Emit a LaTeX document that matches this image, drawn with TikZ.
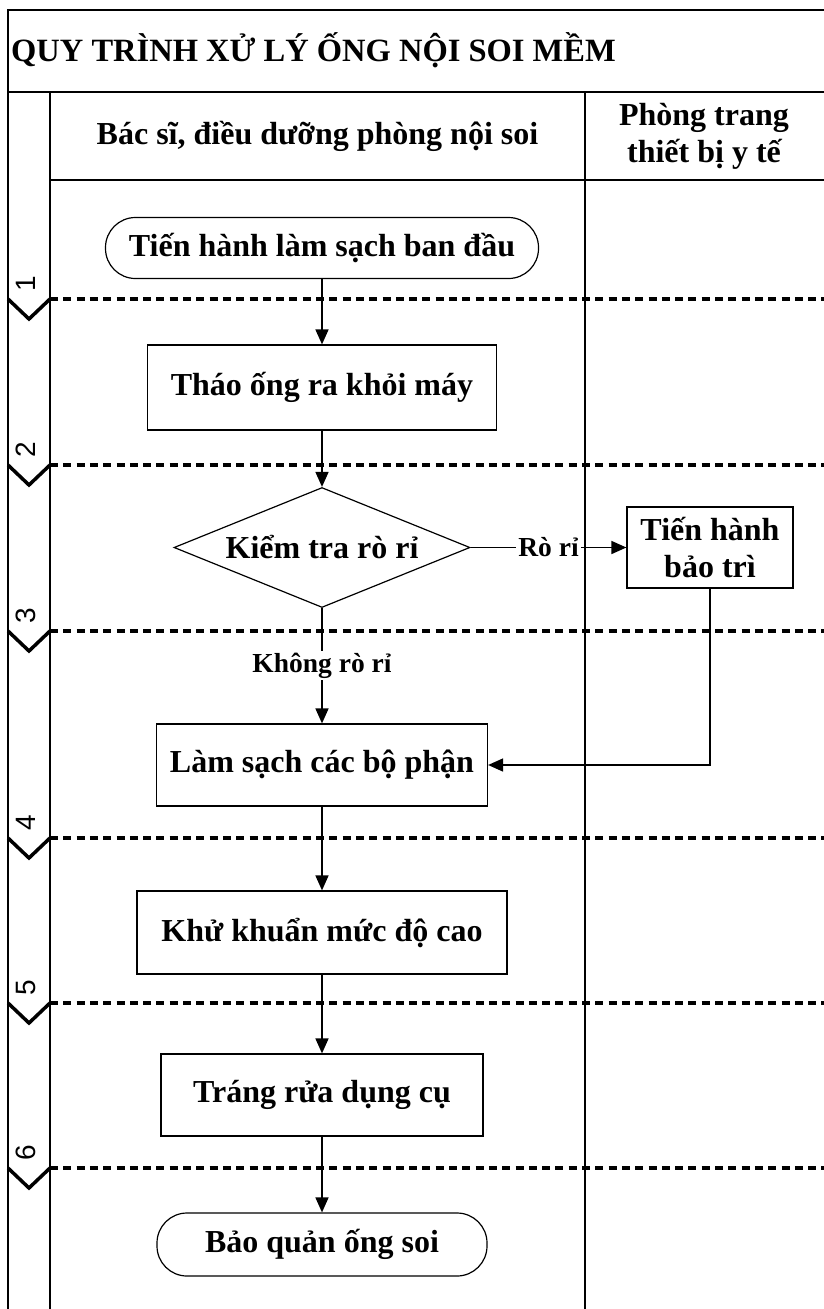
\documentclass[tikz,border=0pt]{standalone}
\usepackage{fontspec}
\setmainfont{Liberation Serif}
\newfontfamily\phasefont{Liberation Sans}
\usetikzlibrary{shapes.geometric,arrows.meta}

\begin{document}
\begin{tikzpicture}[x=1pt,y=-1pt,
   every node/.style={font=\bfseries\fontsize{32}{37}\selectfont},
   stepbox/.style={draw,line width=1.2pt,minimum width=#1,minimum height=82pt,inner sep=0pt},
   terminal/.style={draw,line width=1.2pt,rounded corners=30pt,minimum width=#1,minimum height=61pt,inner sep=0pt},
   decision/.style={draw,diamond,aspect=2.46,line width=1.2pt,minimum width=296pt,minimum height=120pt,inner sep=0pt},
   flow/.style={line width=1.6pt,-{Triangle[length=15pt,width=13pt]}},
   flowlabel/.style={fill=white,inner sep=2pt,font=\bfseries\fontsize{27.5}{30}\selectfont},
   lane/.style={line width=1.5pt},
   phase/.style={line width=3.5pt,dash pattern=on 8pt off 5.3pt},
   chevron/.style={line width=3.5pt,line join=miter},
   phasenum/.style={font=\phasefont\fontsize{28}{30}\selectfont,rotate=90,inner sep=0pt}]

   \useasboundingbox (0,0) rectangle (823,1309);

   % swimlane frame
   \draw [lane] (830,10) -- (8,10) -- (8,1320);
   \draw [lane] (8,92) -- (830,92);
   \draw [lane] (50,92) -- (50,1320);
   \draw [lane] (50,180) -- (830,180);
   \draw [lane] (585,92) -- (585,1320);

   % phase separators
   \foreach \y/\n in {299/1,465/2,631/3,838/4,1003/5,1168/6}{
      \draw [phase] (50,\y) -- (830,\y);
      \draw [chevron] (8,\y) -- (29,\y+20) -- (50,\y);
      \node (Phase\n) at (26,\y-15) [phasenum] {\n};
   }

   \node (TieuDe) at (11,61) [anchor=base west,inner sep=0pt,font=\bfseries\fontsize{32.5}{36}\selectfont] {QUY TRÌNH XỬ LÝ ỐNG NỘI SOI MỀM};

   \node (LanBacSi) at (317.5,136) [] {Bác sĩ, điều dưỡng phòng nội soi};
   \node (LanThietBi) at (704,136) [align=center] {Phòng trang\\thiết bị y tế};

   \node (BatDau) at (322,248) [terminal=433pt] {Tiến hành làm sạch ban đầu};
   \node (ThaoOng) at (322,387.5) [stepbox=349pt,minimum height=85pt] {Tháo ống ra khỏi máy};
   \node (KiemTra) at (322,547.5) [decision] {Kiểm tra rò rỉ};
   \node (BaoTri) at (710,547.5) [stepbox=166pt,minimum height=81pt,align=center] {Tiến hành\\bảo trì};
   \node (LamSach) at (322,765) [stepbox=331pt] {Làm sạch các bộ phận};
   \node (KhuKhuan) at (322,932.5) [stepbox=370pt,minimum height=83pt] {Khử khuẩn mức độ cao};
   \node (TrangRua) at (322,1095) [stepbox=322pt] {Tráng rửa dụng cụ};
   \node (BaoQuan) at (322,1244.5) [terminal=330pt,minimum height=63pt] {Bảo quản ống soi};

   \draw [flow] (BatDau.south) -- (ThaoOng.north);
   \draw [flow] (ThaoOng.south) -- (KiemTra.north);
   \draw [flow] (KiemTra.east) -- node [flowlabel] {Rò rỉ} (BaoTri.west);
   \draw [flow] (KiemTra.south) -- node [flowlabel] {Không rò rỉ} (LamSach.north);
   \draw [flow] (BaoTri.south) |- (LamSach.east);
   \draw [flow] (LamSach.south) -- (KhuKhuan.north);
   \draw [flow] (KhuKhuan.south) -- (TrangRua.north);
   \draw [flow] (TrangRua.south) -- (BaoQuan.north);

\end{tikzpicture}
\end{document}
